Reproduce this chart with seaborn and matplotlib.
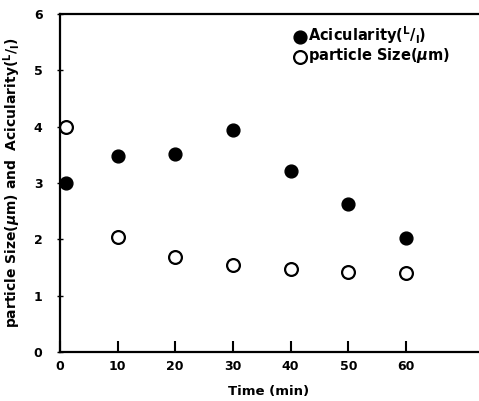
import matplotlib
matplotlib.use("Agg")
import matplotlib.pyplot as plt
import seaborn as sns
import pandas as pd

time_min = [1, 10, 20, 30, 40, 50, 60]
acicularity = [3.0, 3.48, 3.52, 3.95, 3.22, 2.62, 2.03]
particle_size = [4.0, 2.04, 1.69, 1.55, 1.48, 1.42, 1.40]
x_ticks = [0, 10, 20, 30, 40, 50, 60]
y_ticks = [0, 1, 2, 3, 4, 5, 6]

lab_ac = r"Acicularity($^{\mathsf{L}}/_{\mathsf{l}}$)"
lab_ps = r"particle Size($\mu$m)"

df_ac = pd.DataFrame({"time": time_min, "value": acicularity})
df_ps = pd.DataFrame({"time": time_min, "value": particle_size})

sns.set_style("ticks")
plt.rcParams["font.family"] = ["DejaVu Sans"]
plt.rcParams["font.weight"] = "bold"
plt.rcParams["mathtext.fontset"] = "dejavusans"
for k in ["text.color", "axes.labelcolor", "xtick.color", "ytick.color", "axes.edgecolor"]:
    plt.rcParams[k] = "black"

fig = plt.figure(figsize=(4.79, 4.01), dpi=100)
ax = fig.add_axes([0.125, 0.122, 0.873, 0.843])

sns.scatterplot(data=df_ac, x="time", y="value", ax=ax, s=85, color="black",
                edgecolor="black", linewidth=1.0, marker="o", label=lab_ac, zorder=3)
sns.scatterplot(data=df_ps, x="time", y="value", ax=ax, s=85, facecolor="white",
                edgecolor="black", linewidth=1.6, marker="o", label=lab_ps, zorder=3)

ax.set_xlim(0, 72.5)
ax.set_ylim(0, 6)
ax.set_xticks(x_ticks)
ax.set_yticks(y_ticks)
ax.set_xticklabels([str(t) for t in x_ticks], fontsize=9, fontweight="bold")
ax.set_yticklabels([str(t) for t in y_ticks], fontsize=9, fontweight="bold")
ax.tick_params(axis="x", direction="in", length=8, width=1.5, pad=6)
ax.tick_params(axis="y", direction="inout", length=5, width=1.0, pad=10)

ax.spines["right"].set_visible(False)
for sp in ["left", "bottom", "top"]:
    ax.spines[sp].set_linewidth(1.6)

ax.set_xlabel("Time (min)", fontsize=9.5, fontweight="bold", labelpad=8)
ax.set_ylabel(r"particle Size($\mu$m) and  Acicularity($^{\mathsf{L}}/_{\mathsf{l}}$)",
              fontsize=10, fontweight="bold", labelpad=8)

leg = ax.legend(loc="upper left", bbox_to_anchor=(0.53, 1.005), frameon=False,
                handletextpad=0.05, borderpad=0.3, labelspacing=0.05,
                prop={"weight": "bold", "size": 10.5}, handlelength=1.0)

fig.savefig("out.png", dpi=100)
